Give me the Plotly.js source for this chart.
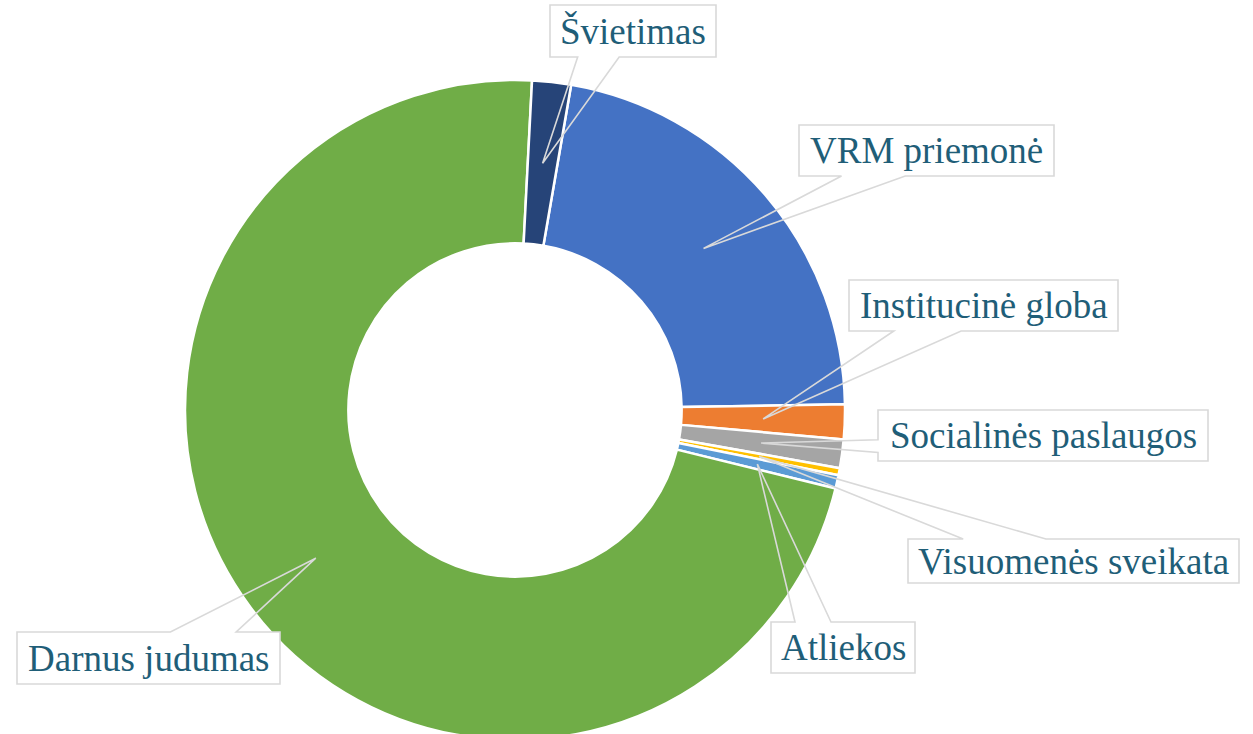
<!DOCTYPE html>
<html><head><meta charset="utf-8">
<script src="https://cdn.plot.ly/plotly-3.0.1.min.js"></script>
<style>html,body{margin:0;padding:0;overflow:hidden;background:#fff}#chart{width:1253px;height:740px}</style>
</head><body><div id="chart"></div>
<script>
// ---- data ----
const labels = ['VRM priemonė','Institucinė globa','Socialinės paslaugos','Visuomenės sveikata','Atliekos','Darnus judumas','Švietimas'];
const values = [22.0, 1.7, 1.4, 0.35, 0.65, 72.0, 1.9];
const colors = ['#4472C4','#ED7D31','#A5A5A5','#FFC000','#5B9BD5','#70AD47','#264478'];

// ---- layout constants (pixels) ----
const W = 1253, H = 740;
const CX = 515, CY = 410, R = 330, HOLE = 0.505, ROT = 9.8;
const TEXT_COLOR = '#1F5E78', LINE_COLOR = '#D9D9D9';
const FONT = 'Liberation Serif';
const boxes = {
  'VRM priemonė': [799,125,1054,176],
  'Institucinė globa': [849,280,1118,331],
  'Socialinės paslaugos': [878,410,1208,461],
  'Visuomenės sveikata': [908,539,1239,583],
  'Atliekos': [771,622,915,673],
  'Darnus judumas': [17,632,280,684],
  'Švietimas': [550,5,716,57]
};

const px = x => x / W;
const py = y => 1 - y / H;

const total = values.reduce((a,b)=>a+b,0);
const rm = R * (1 + HOLE) / 2;
const shapes = [], annotations = [];
let cum = 0;
labels.forEach((lab, i) => {
  const mid = (ROT + (cum + values[i]/2) * 360 / total) * Math.PI / 180;
  cum += values[i];
  const tx = CX + rm * Math.sin(mid), ty = CY - rm * Math.cos(mid);
  const [x0,y0,x1,y1] = boxes[lab];
  const bw = x1-x0, bh = y1-y0;
  let pts;
  if (ty > y1 || ty < y0) {
    const top = ty < y0;
    const f = tx < (x0+x1)/2 ? [1/6, 5/12] : [7/12, 5/6];
    const a = x0 + f[0]*bw, b = x0 + f[1]*bw;
    if (top) pts = [[x0,y0],[a,y0],[tx,ty],[b,y0],[x1,y0],[x1,y1],[x0,y1]];
    else pts = [[x0,y0],[x1,y0],[x1,y1],[b,y1],[tx,ty],[a,y1],[x0,y1]];
  } else {
    const left = tx < x0;
    const f = ty < (y0+y1)/2 ? [1/6, 5/12] : [7/12, 5/6];
    const a = y0 + f[0]*bh, b = y0 + f[1]*bh;
    if (left) pts = [[x0,y0],[x1,y0],[x1,y1],[x0,y1],[x0,b],[tx,ty],[x0,a]];
    else pts = [[x0,y0],[x1,y0],[x1,a],[tx,ty],[x1,b],[x1,y1],[x0,y1]];
  }
  shapes.push({type:'rect', xref:'paper', yref:'paper', x0:px(x0), x1:px(x1), y0:py(y1), y1:py(y0),
    fillcolor:'#FFFFFF', line:{width:0}, layer:'above'});
  const path = 'M' + pts.map(p => px(p[0]).toFixed(5) + ',' + py(p[1]).toFixed(5)).join('L') + 'Z';
  shapes.push({type:'path', xref:'paper', yref:'paper', path:path,
    line:{color:LINE_COLOR, width:1.6}, fillcolor:'rgba(0,0,0,0)', layer:'above'});
  annotations.push({xref:'paper', yref:'paper', x:px((x0+x1)/2), y:py((y0+y1)/2),
    xanchor:'center', yanchor:'middle', showarrow:false, text:lab,
    font:{family:FONT, size:37, color:TEXT_COLOR}});
});

const trace = {
  type:'pie', labels:labels, values:values, hole:HOLE, sort:false, direction:'clockwise',
  rotation:ROT, textinfo:'none', hoverinfo:'label+percent',
  marker:{colors:colors, line:{color:'#FFFFFF', width:2.5}},
  domain:{x:[(CX-R)/W, (CX+R)/W], y:[1-(CY+R)/H, 1-(CY-R)/H]}
};

Plotly.newPlot('chart', [trace], {
  width:W, height:H, margin:{l:0,r:0,t:0,b:0}, showlegend:false,
  paper_bgcolor:'#FFFFFF', shapes:shapes, annotations:annotations
}, {displayModeBar:false, staticPlot:true});
</script></body></html>
